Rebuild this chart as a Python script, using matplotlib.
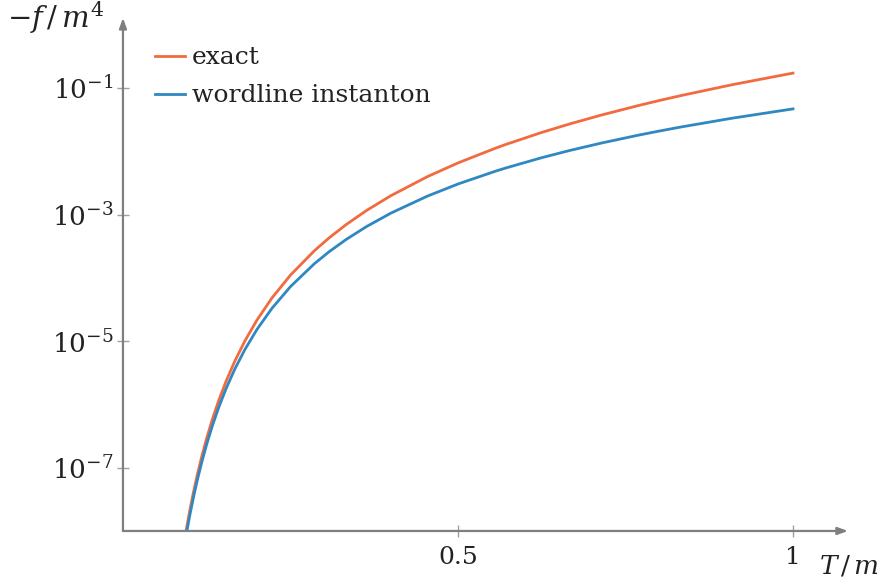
import numpy as np
import matplotlib
matplotlib.use("Agg")
import matplotlib.pyplot as plt
from matplotlib.ticker import FixedLocator, LogFormatterSciNotation, NullLocator

plt.rcParams["font.family"] = ["DejaVu Serif"]
plt.rcParams["mathtext.fontset"] = "dejavuserif"

# temperature T/m
T = [1.0, 0.909091, 0.833333, 0.8, 0.769231, 0.714286, 0.666667, 0.625,
     0.571429, 0.555556, 0.5, 0.454545, 0.4, 0.363636, 0.333333, 0.307692,
     0.285714, 0.25, 0.222222, 0.2, 0.181818, 0.166667, 0.153846, 0.142857,
     0.133333, 0.125, 0.117647, 0.111111, 0.105263, 0.1, 0.095238, 0.090909]

# log10(-f/m^4)
log_exact = [-0.7647, -0.9485, -1.1186, -1.1990, -1.2776, -1.4270, -1.5682,
             -1.7024, -1.8922, -1.9530, -2.1842, -2.4000, -2.7009, -2.9348,
             -3.1566, -3.3682, -3.5713, -3.9566, -4.3202, -4.6668, -4.9999,
             -5.3221, -5.6351, -5.9405, -6.2394, -6.5326, -6.8209, -7.1048,
             -7.3849, -7.6617, -7.9353, -8.2062]
log_instanton = [-1.3305, -1.4775, -1.6154, -1.6814, -1.7457, -1.8696, -1.9879,
                 -2.1014, -2.2639, -2.3162, -2.5174, -2.7078, -2.9768, -3.1889,
                 -3.3919, -3.5874, -3.7765, -4.1386, -4.4836, -4.8152, -5.1358,
                 -5.4474, -5.7514, -6.0491, -6.3411, -6.6283, -6.9113, -7.1905,
                 -7.4664, -7.7392, -8.0093, -8.2770]

exact = 10.0 ** np.array(log_exact)
instanton = 10.0 ** np.array(log_instanton)

axis_col = "#7f7f7f"
text_col = "#222222"
fs = 18

fig = plt.figure(figsize=(8.84, 5.86), dpi=100)
ax = fig.add_axes([0.1391, 0.0939, 0.8201, 0.8754])
ax.set_yscale("log")

ax.plot(T, exact, color="#f26b3f", lw=2.0, label="exact")
ax.plot(T, instanton, color="#2f88c2", lw=2.0, label="wordline instanton")

ax.set_xlim(0, 1.082)
ax.set_ylim(1e-8, 10 ** 0.106)

for s in ax.spines.values():
    s.set_visible(False)
# axis lines with arrow heads
arrow = dict(arrowstyle="-|>,head_length=0.6,head_width=0.22", color=axis_col,
             lw=1.6, shrinkA=0, shrinkB=0)
ax.annotate("", xy=(1, 0), xytext=(0, 0), xycoords="axes fraction", arrowprops=arrow)
ax.annotate("", xy=(0, 1), xytext=(0, 0), xycoords="axes fraction", arrowprops=arrow)

ax.xaxis.set_major_locator(FixedLocator([0.5, 1.0]))
ax.set_xticklabels(["0.5", "1"])
ax.yaxis.set_major_locator(FixedLocator([1e-1, 1e-3, 1e-5, 1e-7]))
ax.yaxis.set_major_formatter(LogFormatterSciNotation())
ax.yaxis.set_minor_locator(NullLocator())
ax.xaxis.set_minor_locator(NullLocator())
ax.tick_params(axis="both", direction="inout", length=8, width=1.0,
               color="#a0a0a0", labelcolor=text_col)
ax.tick_params(axis="y", pad=3, labelsize=fs + 1)
ax.tick_params(axis="x", pad=7, labelsize=fs)

fig.text(0.008, 0.952, r"$-f\,/\,m^4$", fontsize=fs + 3, color=text_col, ha="left")
fig.text(0.926, 0.022, r"$T\,/\,m$", fontsize=fs + 1, color=text_col, ha="left")

ax.legend(loc="upper left", bbox_to_anchor=(0.03, 0.964), frameon=False,
          fontsize=fs, handlelength=1.2, handletextpad=0.3, labelspacing=0.6,
          borderaxespad=0, labelcolor=text_col)

fig.savefig("out.png", dpi=100)
